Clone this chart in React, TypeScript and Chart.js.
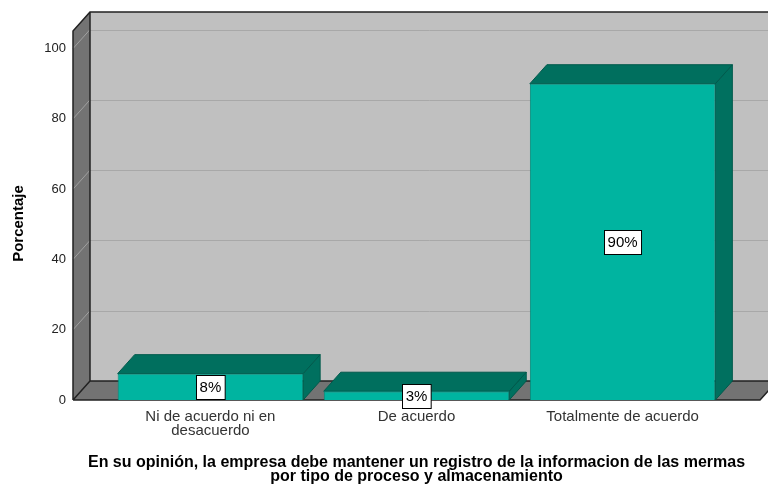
import React, { useEffect, useRef } from "react";
import { Chart, registerables } from "chart.js";

Chart.register(...registerables);

const categories: (string | string[])[] = [
  ["Ni de acuerdo ni en", "desacuerdo"],
  "De acuerdo",
  "Totalmente de acuerdo",
];
const percentages: number[] = [7.5, 2.5, 90];
const yTicks: number[] = [0, 20, 40, 60, 80, 100];
const yTitle = "Porcentaje";
const xTitle: string[] = [
  "En su opinión, la empresa debe mantener un registro de la informacion de las mermas",
  "por tipo de proceso y almacenamiento",
];

const FONT = "'Liberation Sans', Arial, sans-serif";
const DX = 17;
const DY = 19;

const threeD = {
  id: "threeD",
  beforeDatasetsDraw(chart: any) {
    const { ctx, chartArea } = chart;
    const { left, right, top, bottom } = chartArea;
    const y = chart.scales.y;
    ctx.save();
    // back wall
    ctx.fillStyle = "#c0c0c0";
    ctx.fillRect(left + DX, top - DY, right - left, bottom - top);
    // gridlines on back wall
    y.ticks.forEach((t: any) => {
      if (t.value === 0) return;
      const py = Math.round(y.getPixelForValue(t.value)) + 0.5;
      ctx.strokeStyle = "#a8a8a8";
      ctx.lineWidth = 1;
      ctx.beginPath();
      ctx.moveTo(left + DX, py - DY);
      ctx.lineTo(right + DX, py - DY);
      ctx.stroke();
    });
    // left wall
    ctx.fillStyle = "#737373";
    ctx.beginPath();
    ctx.moveTo(left, top);
    ctx.lineTo(left + DX, top - DY);
    ctx.lineTo(left + DX, bottom - DY);
    ctx.lineTo(left, bottom);
    ctx.closePath();
    ctx.fill();
    y.ticks.forEach((t: any) => {
      if (t.value === 0) return;
      const py = y.getPixelForValue(t.value);
      ctx.strokeStyle = "#a0a0a0";
      ctx.lineWidth = 1;
      ctx.beginPath();
      ctx.moveTo(left, py);
      ctx.lineTo(left + DX, py - DY);
      ctx.stroke();
    });
    // floor
    ctx.fillStyle = "#737373";
    ctx.beginPath();
    ctx.moveTo(left, bottom);
    ctx.lineTo(left + DX, bottom - DY);
    ctx.lineTo(right + DX, bottom - DY);
    ctx.lineTo(right, bottom);
    ctx.closePath();
    ctx.fill();
    // outlines
    ctx.strokeStyle = "#222";
    ctx.lineWidth = 1.5;
    ctx.beginPath();
    ctx.moveTo(left, bottom);
    ctx.lineTo(left, top);
    ctx.lineTo(left + DX, top - DY);
    ctx.lineTo(right + DX, top - DY);
    ctx.moveTo(left + DX, top - DY);
    ctx.lineTo(left + DX, bottom - DY);
    ctx.lineTo(right + DX, bottom - DY);
    ctx.moveTo(left, bottom);
    ctx.lineTo(left + DX, bottom - DY);
    ctx.moveTo(left, bottom);
    ctx.lineTo(right, bottom);
    ctx.lineTo(right + DX, bottom - DY);
    ctx.stroke();
    // bar 3D faces
    const meta = chart.getDatasetMeta(0);
    meta.data.forEach((bar: any) => {
      const p = bar.getProps(["x", "y", "base", "width"], true);
      const l = p.x - p.width / 2;
      const r = p.x + p.width / 2;
      ctx.strokeStyle = "#005a4c";
      ctx.lineWidth = 1;
      ctx.fillStyle = "#00705f";
      ctx.beginPath();
      ctx.moveTo(r, p.y);
      ctx.lineTo(r + DX, p.y - DY);
      ctx.lineTo(r + DX, p.base - DY);
      ctx.lineTo(r, p.base);
      ctx.closePath();
      ctx.fill();
      ctx.stroke();
      ctx.fillStyle = "#006f5e";
      ctx.beginPath();
      ctx.moveTo(l, p.y);
      ctx.lineTo(l + DX, p.y - DY);
      ctx.lineTo(r + DX, p.y - DY);
      ctx.lineTo(r, p.y);
      ctx.closePath();
      ctx.fill();
      ctx.stroke();
    });
    ctx.restore();
  },
  afterDatasetsDraw(chart: any) {
    const { ctx } = chart;
    const meta = chart.getDatasetMeta(0);
    ctx.save();
    ctx.font = `15px ${FONT}`;
    ctx.textAlign = "center";
    ctx.textBaseline = "middle";
    meta.data.forEach((bar: any, i: number) => {
      const p = bar.getProps(["x", "y", "base"], true);
      const text = Math.round(percentages[i]) + "%";
      const w = ctx.measureText(text).width + 7;
      const h = 24;
      const cy = (p.y + p.base) / 2;
      const bx = Math.round(p.x - w / 2) + 0.5;
      const by = Math.round(cy - h / 2) + 0.5;
      ctx.fillStyle = "#ffffff";
      ctx.fillRect(bx, by, w, h);
      ctx.strokeStyle = "#000";
      ctx.lineWidth = 1;
      ctx.strokeRect(bx, by, w, h);
      ctx.fillStyle = "#000";
      ctx.fillText(text, p.x, cy + 1);
    });
    ctx.restore();
  },
  afterDraw(chart: any) {
    const { ctx, chartArea } = chart;
    ctx.save();
    ctx.font = `bold 15px ${FONT}`;
    ctx.fillStyle = "#000";
    ctx.textAlign = "center";
    ctx.textBaseline = "middle";
    ctx.translate(19, (chartArea.top + chartArea.bottom) / 2 + 8);
    ctx.rotate(-Math.PI / 2);
    ctx.fillText(yTitle, 0, 0);
    ctx.restore();
  },
};

export default function App() {
  const ref = useRef<HTMLCanvasElement | null>(null);
  useEffect(() => {
    if (!ref.current) return;
    const chart = new Chart(ref.current, {
      type: "bar",
      data: {
        datasets: [
          {
            data: percentages.map((v, i) => ({ x: i, y: v })),
            backgroundColor: "#00b4a0",
            borderColor: "#008a7a",
            borderWidth: 1,
            barPercentage: 0.9,
            categoryPercentage: 1,
          },
        ],
      },
      options: {
        animation: false,
        responsive: false,
        layout: { padding: { top: 31, right: 8, left: 0, bottom: 0 } },
        plugins: { legend: { display: false }, tooltip: { enabled: false } },
        scales: {
          x: {
            type: "linear",
            offset: false,
            min: -2 / 3,
            max: 8 / 3,
            grid: { display: false, drawTicks: false, offset: false },
            border: { display: false },
            afterBuildTicks: (scale: any) => {
              scale.ticks = categories.map((_, i) => ({ value: i }));
            },
            afterFit: (scale: any) => {
              scale.height = 84;
            },
            ticks: {
              autoSkip: false,
              maxRotation: 0,
              padding: 10,
              color: "#333",
              font: { family: FONT, size: 15, lineHeight: "14px" },
              callback: (v: any) => categories[v as number],
            },
            title: {
              display: true,
              text: xTitle,
              color: "#000",
              font: { family: FONT, size: 16, weight: "bold", lineHeight: "14px" },
              padding: { top: 0, bottom: 0.5 },
            },
          },
          y: {
            min: 0,
            max: 105,
            grid: { display: false, drawTicks: false },
            border: { display: false },
            afterBuildTicks: (scale: any) => {
              scale.ticks = yTicks.map((v) => ({ value: v }));
            },
            afterFit: (scale: any) => {
              scale.width = 73;
            },
            ticks: {
              padding: 7,
              color: "#222",
              font: { family: FONT, size: 13 },
            },
            title: { display: false },
          },
        },
      },
      plugins: [threeD],
    } as any);
    return () => chart.destroy();
  }, []);
  return (
    <div style={{ position: "fixed", left: 0, top: 0, width: 768, height: 484, background: "#fff" }}>
      <canvas ref={ref} width={768} height={484} />
    </div>
  );
}
